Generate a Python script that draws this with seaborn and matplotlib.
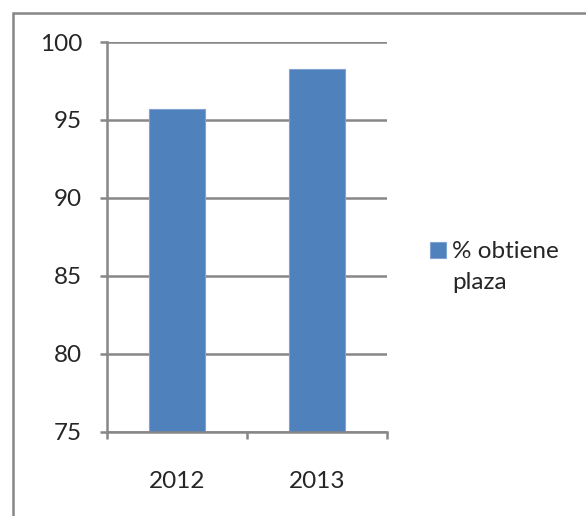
import matplotlib
matplotlib.use("Agg")
import matplotlib.pyplot as plt
import seaborn as sns
from matplotlib.patches import Rectangle

# Data
years = ["2012", "2013"]
pct_obtiene_plaza = [95.7, 98.3]
legend_lines = ["% obtiene", "plaza"]
y_ticks = [75, 80, 85, 90, 95, 100]

bar_color = "#4F81BD"
grid_gray = "#878787"
fsize = 17.5

sns.set_style("white")
plt.rcParams['font.family'] = ['Lato', 'DejaVu Sans']

fig = plt.figure(figsize=(5.86, 5.16), dpi=100)
ax = fig.add_axes([0.1826, 0.1634, 0.4774, 0.7552])

sns.barplot(x=years, y=pct_obtiene_plaza, color=bar_color, saturation=1,
            width=0.4, edgecolor="#7FA3D1", linewidth=0.8,
            label=legend_lines[0], ax=ax)

ax.set_ylim(75, 100)
ax.set_yticks(y_ticks)
ax.set_xlim(-0.5, 1.5)
ax.yaxis.grid(True, color=grid_gray, linewidth=1.8)
ax.set_axisbelow(True)

# category boundary ticks like Excel, labels at category centres
ax.set_xticks([-0.5, 0.5, 1.5])
ax.set_xticklabels(["", "", ""])
ax.set_xticks([0, 1], minor=True)
ax.set_xticklabels(years, minor=True)
ax.tick_params(axis="x", which="major", direction="out", length=5, width=1.8,
               color=grid_gray, bottom=True)
ax.tick_params(axis="x", which="minor", length=0, pad=28, labelsize=fsize)
ax.tick_params(axis="y", direction="out", length=5, width=1.8, color=grid_gray,
               left=True, pad=13, labelsize=fsize)
ax.set_xlabel("")
ax.set_ylabel("")

sns.despine(ax=ax)
for side in ["left", "bottom"]:
    ax.spines[side].set_color(grid_gray)
    ax.spines[side].set_linewidth(1.8)

handles, labels = ax.get_legend_handles_labels()
leg = ax.legend(handles, labels, loc="upper left", bbox_to_anchor=(0.734, 0.532),
                bbox_transform=fig.transFigure, frameon=False, fontsize=fsize,
                handlelength=0.64, handleheight=0.64, handletextpad=0.28,
                borderpad=0, borderaxespad=0)

# second legend line sits under the first, as Excel wraps it
fig.canvas.draw()
bb = leg.get_texts()[0].get_window_extent().transformed(fig.transFigure.inverted())
fig.text(bb.x0, 1 - 289 / 516, legend_lines[1], fontsize=fsize, va="baseline")

# outer chart frame (only top and left edges are visible in the crop)
fig.patches.append(Rectangle((13 / 586, -0.2), 1.2, 1 - 13 / 516 + 0.2,
                             transform=fig.transFigure, fill=False,
                             edgecolor=grid_gray, linewidth=1.8))

fig.savefig("out.png", dpi=100, facecolor="white")
